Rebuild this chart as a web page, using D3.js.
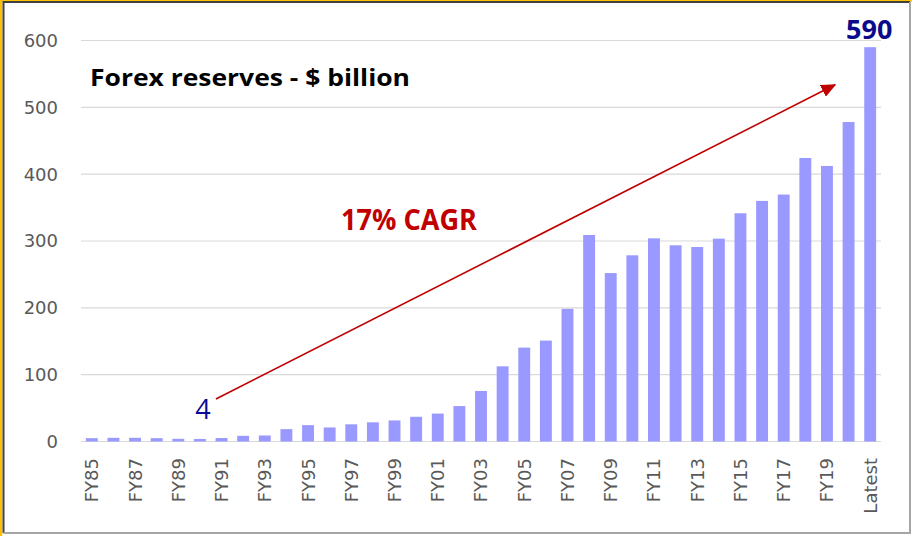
<!DOCTYPE html>
<html>
<head>
<meta charset="utf-8">
<script src="https://cdn.jsdelivr.net/npm/d3@7"></script>
<style>
  body { margin: 0; background: #fff; }
  svg { display: block; }
  .tick-label { font-family: 'DejaVu Sans', sans-serif; font-size: 18px; fill: #595959; }
  .grid { stroke: #d9d9d9; stroke-width: 1.2; }
  .bar { fill: #9999ff; }
</style>
</head>
<body>
<svg width="914" height="536"></svg>
<script>
(function (d3) {
  'use strict';

  const categories = [
    'FY85', 'FY86', 'FY87', 'FY88', 'FY89', 'FY90', 'FY91', 'FY92', 'FY93', 'FY94',
    'FY95', 'FY96', 'FY97', 'FY98', 'FY99', 'FY00', 'FY01', 'FY02', 'FY03', 'FY04',
    'FY05', 'FY06', 'FY07', 'FY08', 'FY09', 'FY10', 'FY11', 'FY12', 'FY13', 'FY14',
    'FY15', 'FY16', 'FY17', 'FY18', 'FY19', 'FY20', 'Latest'
  ];

  const reserves = [
    5, 5.5, 5.5, 5, 4, 3.8, 5.2, 8.5, 9, 18.5,
    24.5, 21, 25.7, 28.7, 31.5, 37, 41.8, 53, 75.6, 112.5,
    140.5, 151, 198.5, 309, 252, 278.6, 304, 293.6, 291, 303.5,
    341.5, 360, 369.5, 424.2, 412.3, 478, 590
  ];

  const yTicks = [0, 100, 200, 300, 400, 500, 600];

  const titleText = 'Forex reserves - $ billion';
  const cagrText = '17% CAGR';
  const startLabel = '4';
  const endLabel = '590';

  const svg = d3.select('svg');
  const width = +svg.attr('width');
  const height = +svg.attr('height');

  const margin = { left: 81, right: 33, top: 40.5, bottom: 94.5 };
  const innerWidth = width - margin.left - margin.right;
  const innerHeight = height - margin.top - margin.bottom;

  const data = categories.map((c, i) => ({ category: c, value: reserves[i] }));

  const xScale = d3.scaleBand()
    .domain(categories)
    .range([margin.left, margin.left + innerWidth])
    .paddingInner(0.45)
    .paddingOuter(0.225);

  const indexScale = d3.scaleLinear()
    .domain([0, categories.length])
    .range([margin.left, margin.left + innerWidth]);

  const yScale = d3.scaleLinear()
    .domain([0, 600])
    .range([margin.top + innerHeight, margin.top]);

  // frame
  svg.append('rect')
    .attr('width', width).attr('height', height)
    .attr('fill', '#fff');
  svg.append('path')
    .attr('d', `M1,${height} V0.5 H${width - 2}`)
    .attr('fill', 'none').attr('stroke', '#ffc000').attr('stroke-width', 2.5);
  svg.append('path')
    .attr('d', `M3.5,${height - 3} V2 H910`)
    .attr('fill', 'none').attr('stroke', '#404040').attr('stroke-width', 2);
  svg.append('path')
    .attr('d', `M910,2 V533 H3.5`)
    .attr('fill', 'none').attr('stroke', '#a6a6a6').attr('stroke-width', 2);

  svg.append('g').selectAll('line').data(yTicks)
    .enter().append('line')
    .attr('class', 'grid')
    .attr('x1', margin.left)
    .attr('x2', margin.left + innerWidth)
    .attr('y1', yScale)
    .attr('y2', yScale);

  svg.append('g').selectAll('text').data(yTicks)
    .enter().append('text')
    .attr('class', 'tick-label')
    .attr('x', margin.left - 23)
    .attr('y', yScale)
    .attr('dy', '0.36em')
    .attr('text-anchor', 'end')
    .text(d => d);

  svg.append('g').selectAll('rect').data(data)
    .enter().append('rect')
    .attr('class', 'bar')
    .attr('x', d => xScale(d.category))
    .attr('width', xScale.bandwidth())
    .attr('y', d => yScale(d.value))
    .attr('height', d => yScale(0) - yScale(d.value));

  const bandCenter = c => xScale(c) + xScale.bandwidth() / 2;

  svg.append('g').selectAll('text')
    .data(categories.filter((d, i) => i % 2 === 0))
    .enter().append('text')
    .attr('class', 'tick-label')
    .attr('text-anchor', 'end')
    .attr('dy', '0.36em')
    .attr('transform', d =>
      `translate(${bandCenter(d)},${yScale(0) + 16.5}) rotate(-90)`
    )
    .text(d => d);

  svg.append('text')
    .attr('x', 90)
    .attr('y', 86)
    .attr('font-family', 'Open Sans, sans-serif')
    .attr('font-weight', 700)
    .attr('font-size', 23.5)
    .attr('textLength', 320)
    .attr('lengthAdjust', 'spacingAndGlyphs')
    .attr('fill', '#000')
    .text(titleText);

  svg.append('defs').append('marker')
    .attr('id', 'arrowhead')
    .attr('viewBox', '0 0 10 10')
    .attr('refX', 9).attr('refY', 5)
    .attr('markerWidth', 15).attr('markerHeight', 13)
    .attr('markerUnits', 'userSpaceOnUse')
    .attr('orient', 'auto')
    .attr('preserveAspectRatio', 'none')
    .append('path')
    .attr('d', 'M0,0 L10,5 L0,10 Z')
    .attr('fill', '#c00000');

  const arrowStart = { index: 6.24, value: 63.6 };
  const arrowEnd = { index: 34.87, value: 533.7 };

  svg.append('line')
    .attr('x1', indexScale(arrowStart.index))
    .attr('y1', yScale(arrowStart.value))
    .attr('x2', indexScale(arrowEnd.index))
    .attr('y2', yScale(arrowEnd.value))
    .attr('stroke', '#c00000')
    .attr('stroke-width', 1.6)
    .attr('marker-end', 'url(#arrowhead)');

  svg.append('text')
    .attr('x', 341)
    .attr('y', 230)
    .attr('font-family', 'Open Sans, sans-serif')
    .attr('font-weight', 700)
    .attr('font-size', 28)
    .attr('textLength', 136)
    .attr('lengthAdjust', 'spacingAndGlyphs')
    .attr('fill', '#c00000')
    .text(cagrText);

  svg.append('text')
    .attr('x', bandCenter('FY90') + 3)
    .attr('y', yScale(0) - 22.5)
    .attr('text-anchor', 'middle')
    .attr('font-family', 'Open Sans, sans-serif')
    .attr('font-size', 27)
    .attr('fill', '#0a0a96')
    .text(startLabel);

  svg.append('text')
    .attr('x', bandCenter('Latest') - 1)
    .attr('y', yScale(reserves[reserves.length - 1]) - 8)
    .attr('text-anchor', 'middle')
    .attr('font-family', 'Open Sans, sans-serif')
    .attr('font-weight', 700)
    .attr('font-size', 27)
    .attr('fill', '#0a0a8c')
    .text(endLabel);

}(d3));
</script>
</body>
</html>
